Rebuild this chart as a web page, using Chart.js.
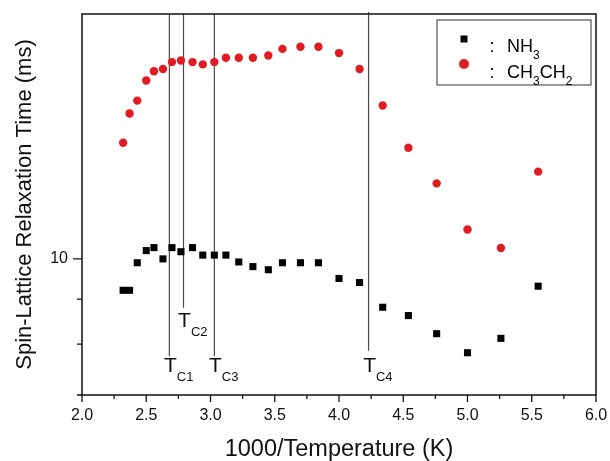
<!DOCTYPE html>
<html>
<head>
<meta charset="utf-8">
<script src="https://cdn.jsdelivr.net/npm/chart.js@4.4.1/dist/chart.umd.min.js"></script>
<style>
  html, body { margin: 0; padding: 0; background: #fff; }
  #relaxChart { display: block; }
</style>
</head>
<body>
<canvas id="relaxChart" width="610" height="461"></canvas>
<script>
// 1000/T values of the measurement points (same for both series)
let invTemp = [2.32, 2.37, 2.43, 2.50, 2.56, 2.63, 2.70, 2.77, 2.86, 2.94, 3.03, 3.12, 3.22,
               3.33, 3.45, 3.56, 3.70, 3.84, 4.00, 4.16, 4.34, 4.54, 4.76, 5.00, 5.26, 5.55];
// T1 in ms
let nh3Times = [9.21, 9.21, 9.90, 10.22, 10.30, 10.00, 10.30, 10.19, 10.30, 10.10, 10.10, 10.10, 9.92,
                9.80, 9.72, 9.90, 9.90, 9.90, 9.50, 9.40, 8.81, 8.62, 8.22, 7.82, 8.12, 9.31];
let ethylTimes = [13.56, 14.64, 15.14, 15.96, 16.35, 16.45, 16.75, 16.82, 16.75, 16.65, 16.75, 16.94, 16.94,
                  16.94, 17.04, 17.34, 17.44, 17.44, 17.15, 16.45, 14.95, 13.38, 12.19, 10.80, 10.29, 12.57];
let yTickValues = [7, 8, 9, 10];
let yLabelled = [10];
// phase transition markers
let tcNames = ['C1', 'C2', 'C3', 'C4'];
let tcX = [2.68, 2.79, 3.03, 4.23];
let tcLow = [7.75, 8.8, 7.75, 7.86];
let tcHigh = [19, 19, 19, 19.1];

let fontFamily = "'Liberation Sans', Arial, sans-serif";

function pairUp(xs, ys) {
    return xs.map((x, i) => ({ x: x, y: ys[i] }));
}

let datasets = [
    {
        label: 'NH3',
        data: pairUp(invTemp, nh3Times),
        pointStyle: 'rect',
        pointRadius: 5,
        backgroundColor: '#000',
        borderWidth: 0,
        showLine: false
    },
    {
        label: 'CH3CH2',
        data: pairUp(invTemp, ethylTimes),
        pointStyle: 'circle',
        pointRadius: 4.2,
        backgroundColor: '#e01b22',
        borderWidth: 0,
        showLine: false
    }
];
tcX.forEach((x, i) => {
    datasets.push({
        type: 'line',
        label: 'T' + tcNames[i],
        data: [{ x: x, y: tcHigh[i] }, { x: x, y: tcLow[i] }],
        borderColor: '#4a4a4a',
        borderWidth: 1.2,
        pointRadius: 0,
        fill: false,
        clip: false
    });
});

// label gap below each Tc line end (px)
let tcGap = [16, 19, 16, 21];

function subText(ctx, main, sub, x, y, mainSize, subSize, drop) {
    ctx.font = mainSize + 'px ' + fontFamily;
    ctx.textAlign = 'left';
    ctx.fillText(main, x, y);
    let w = ctx.measureText(main).width;
    ctx.font = subSize + 'px ' + fontFamily;
    ctx.fillText(sub, x + w, y + drop);
    return x + w + ctx.measureText(sub).width;
}

// keep the plot box where the original has it
function noOverhang(s) {
    s.paddingTop = 0;
    s.paddingBottom = 0;
    s.paddingLeft = 0;
    s.paddingRight = 0;
}

let framePlugin = {
    id: 'framePlugin',
    afterDraw(chart) {
        const { ctx, chartArea: a, scales: { x, y } } = chart;
        ctx.save();
        ctx.strokeStyle = '#111';
        ctx.lineWidth = 1.5;
        ctx.strokeRect(a.left, a.top, a.right - a.left, a.bottom - a.top);

        // tick marks
        ctx.lineWidth = 1.3;
        ctx.beginPath();
        x.ticks.forEach(t => {
            const px = x.getPixelForValue(t.value);
            const major = Math.abs(t.value * 2 - Math.round(t.value * 2)) < 1e-6;
            ctx.moveTo(px, a.bottom);
            ctx.lineTo(px, a.bottom + (major ? 7 : 4));
        });
        y.ticks.forEach(t => {
            const py = y.getPixelForValue(t.value);
            const len = yLabelled.includes(t.value) ? 9 : 5;
            ctx.moveTo(a.left, py);
            ctx.lineTo(a.left - len, py);
        });
        ctx.stroke();

        // Tc labels
        ctx.fillStyle = '#111';
        ctx.textBaseline = 'alphabetic';
        tcX.forEach((v, i) => {
            const px = x.getPixelForValue(v);
            const py = y.getPixelForValue(tcLow[i]) + tcGap[i];
            ctx.font = '21px ' + fontFamily;
            const tw = ctx.measureText('T').width;
            subText(ctx, 'T', tcNames[i], px + 1 - tw / 2, py, 21, 13, 9);
        });

        // legend
        const bx = a.right - 159, by = a.top + 6, bw = 154, bh = 65;
        ctx.strokeStyle = '#333';
        ctx.lineWidth = 1;
        ctx.strokeRect(bx, by, bw, bh);
        ctx.fillStyle = '#000';
        ctx.fillRect(bx + 23.5, by + 15.5, 7, 7);
        ctx.fillStyle = '#e01b22';
        ctx.beginPath();
        ctx.arc(bx + 27, by + 44, 5, 0, Math.PI * 2);
        ctx.fill();
        ctx.fillStyle = '#000';
        ctx.font = '18px ' + fontFamily;
        ctx.textAlign = 'center';
        ctx.fillText(':', bx + 55, by + 32);
        ctx.fillText(':', bx + 55, by + 58);
        subText(ctx, 'NH', '3', bx + 70, by + 32, 18, 12, 7);
        let nx = subText(ctx, 'CH', '3', bx + 70, by + 58, 18, 12, 7);
        subText(ctx, 'CH', '2', nx, by + 58, 18, 12, 7);
        ctx.restore();
    }
};

let relaxChart = new Chart(document.getElementById('relaxChart'), {
    type: 'scatter',
    data: { datasets: datasets },
    options: {
        responsive: false,
        animation: false,
        events: [],
        layout: { padding: { top: 14, right: 14, left: 0, bottom: 0 } },
        plugins: { legend: { display: false }, tooltip: { enabled: false } },
        scales: {
            x: {
                type: 'linear',
                position: 'bottom',
                min: 2,
                max: 6,
                grid: { display: false, drawTicks: false },
                border: { display: false },
                ticks: {
                    stepSize: 0.25,
                    autoSkip: false,
                    maxRotation: 0,
                    padding: 11,
                    color: '#111',
                    font: { family: fontFamily, size: 16 },
                    callback: v => (Math.abs(v * 2 - Math.round(v * 2)) < 1e-6 ? v.toFixed(1) : '')
                },
                title: {
                    display: true,
                    text: '1000/Temperature (K)',
                    color: '#111',
                    font: { family: fontFamily, size: 23.5, lineHeight: 1.0 },
                    padding: { top: 0, bottom: 0 }
                },
                afterFit: s => { s.height = 66; noOverhang(s); }
            },
            y: {
                type: 'logarithmic',
                min: 7,
                max: 19,
                grid: { display: false, drawTicks: false },
                border: { display: false },
                afterBuildTicks: s => { s.ticks = yTickValues.map(v => ({ value: v })); },
                ticks: {
                    autoSkip: false,
                    padding: 14,
                    color: '#111',
                    font: { family: fontFamily, size: 16 },
                    callback: v => (yLabelled.includes(v) ? String(v) : '')
                },
                title: {
                    display: true,
                    text: 'Spin-Lattice Relaxation Time (ms)',
                    color: '#111',
                    font: { family: fontFamily, size: 22 },
                    padding: { top: 12, bottom: 0 }
                },
                afterFit: s => { s.width = 82; noOverhang(s); }
            }
        }
    },
    plugins: [framePlugin]
});
</script>
</body>
</html>
